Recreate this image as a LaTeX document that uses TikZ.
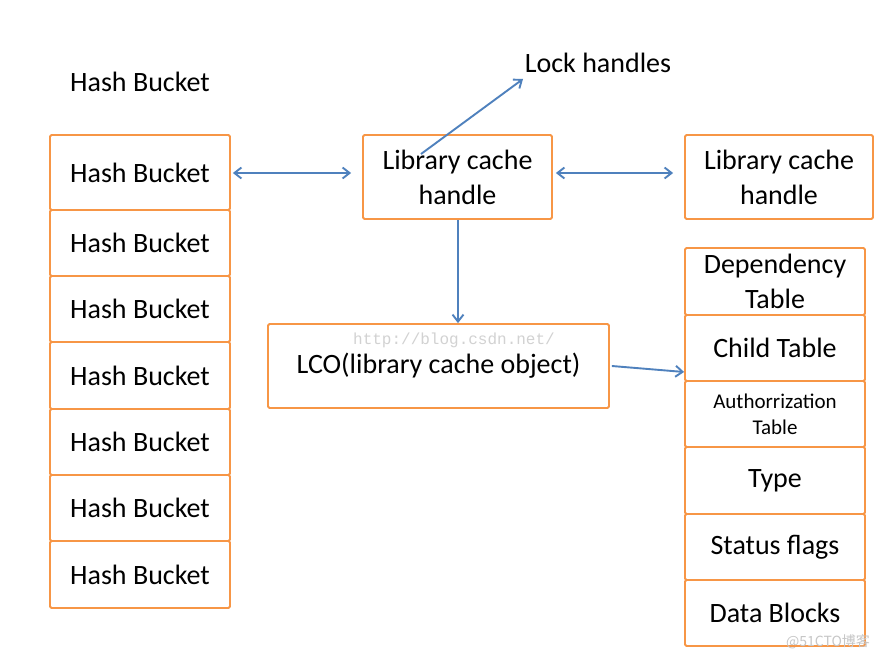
\documentclass[tikz,border=0pt]{standalone}
\usepackage{fontspec}
\setmainfont{Carlito}
\newfontfamily\wmmono{Liberation Mono}
\newfontfamily\cjk{Noto Sans CJK SC}
\usetikzlibrary{arrows.meta}
\definecolor{boxorange}{HTML}{F79646}
\definecolor{arrblue}{HTML}{4F81BD}
\tikzset{
  cell/.style={draw=boxorange, line width=1.8pt, rounded corners=1.5pt, align=center,
    font=\fontsize{28}{35}\selectfont, inner sep=0pt, text=black},
  smallcell/.style={cell, font=\fontsize{21}{26}\selectfont},
  arr/.style={draw=arrblue, line width=1.9pt, -{Straight Barb[length=7pt,width=11pt]}},
  darr/.style={draw=arrblue, line width=1.9pt, {Straight Barb[length=7pt,width=11pt]}-{Straight Barb[length=7pt,width=11pt]}},
  lbl/.style={font=\fontsize{28}{35}\selectfont, inner sep=0pt, text=black}
}
\begin{document}
\begin{tikzpicture}[x=1pt,y=-1pt]
\useasboundingbox[fill=white] (0,0) rectangle (887,661);
\node[lbl] (title) at (140,82) {Hash Bucket};
% left column
\node[cell, minimum width=180pt, minimum height=75pt] (h1) at (140,172.5) {Hash Bucket};
\node[cell, minimum width=180pt, minimum height=66pt] (h2) at (140,243) {Hash Bucket};
\node[cell, minimum width=180pt, minimum height=66pt] (h3) at (140,309) {Hash Bucket};
\node[cell, minimum width=180pt, minimum height=67pt] (h4) at (140,375.5) {Hash Bucket};
\node[cell, minimum width=180pt, minimum height=66pt] (h5) at (140,442) {Hash Bucket};
\node[cell, minimum width=180pt, minimum height=66pt] (h6) at (140,508) {Hash Bucket};
\node[cell, minimum width=180pt, minimum height=67pt] (h7) at (140,574.5) {Hash Bucket};
% handles
\node[cell, minimum width=189pt, minimum height=84pt] (lch1) at (457.5,177) {Library cache\\handle};
\node[cell, minimum width=188pt, minimum height=84pt] (lch2) at (779,177) {Library cache\\handle};
\node[lbl] (lock) at (598,63) {Lock handles};
% LCO
\node[cell, minimum width=341pt, minimum height=84pt] (lco) at (438.5,366) {LCO(library cache object)};
% right column
\node[cell, minimum width=180pt, minimum height=67pt] (r1) at (775,281.5) {Dependency\\Table};
\node[cell, minimum width=180pt, minimum height=66pt] (r2) at (775,348) {Child Table};
\node[smallcell, minimum width=180pt, minimum height=66pt] (r3) at (775,414) {Authorrization\\Table};
\node[cell, minimum width=180pt, minimum height=67pt] (r4) at (775,480.5) {Type};
\node[cell, minimum width=180pt, minimum height=66pt] (r5) at (775,547) {Status flags};
\node[cell, minimum width=180pt, minimum height=66pt] (r6) at (775,613) {Data Blocks};
% arrows
\coordinate (lockstart) at (421,154);
\coordinate (lockend) at (523,79);
\draw[arr] (lockstart) -- (lockend);
\draw[darr] ([xshift=2pt,yshift=-0.5pt]h1.east) -- ([xshift=-11pt,yshift=-0.5pt]h1.east -| lch1.west);
\draw[darr] ([xshift=3pt,yshift=4pt]lch1.east) -- ([xshift=-11pt,yshift=4pt]lch1.east -| lch2.west);
\draw[arr] ([xshift=0.5pt]lch1.south) -- ([xshift=0.5pt]lch1.south |- lco.north);
\draw[arr] ([xshift=2pt]lco.east) -- ([yshift=-24pt]r2.west);
% watermarks
\node[font=\wmmono\fontsize{16}{18}\selectfont, text=gray!35, inner sep=0pt] (wm1) at (454,340) {http://blog.csdn.net/};
\node[font=\cjk\fontsize{14}{16}\selectfont, text=gray!45, inner sep=0pt] (wm2) at (828,642) {@51CTO博客};
\end{tikzpicture}
\end{document}
